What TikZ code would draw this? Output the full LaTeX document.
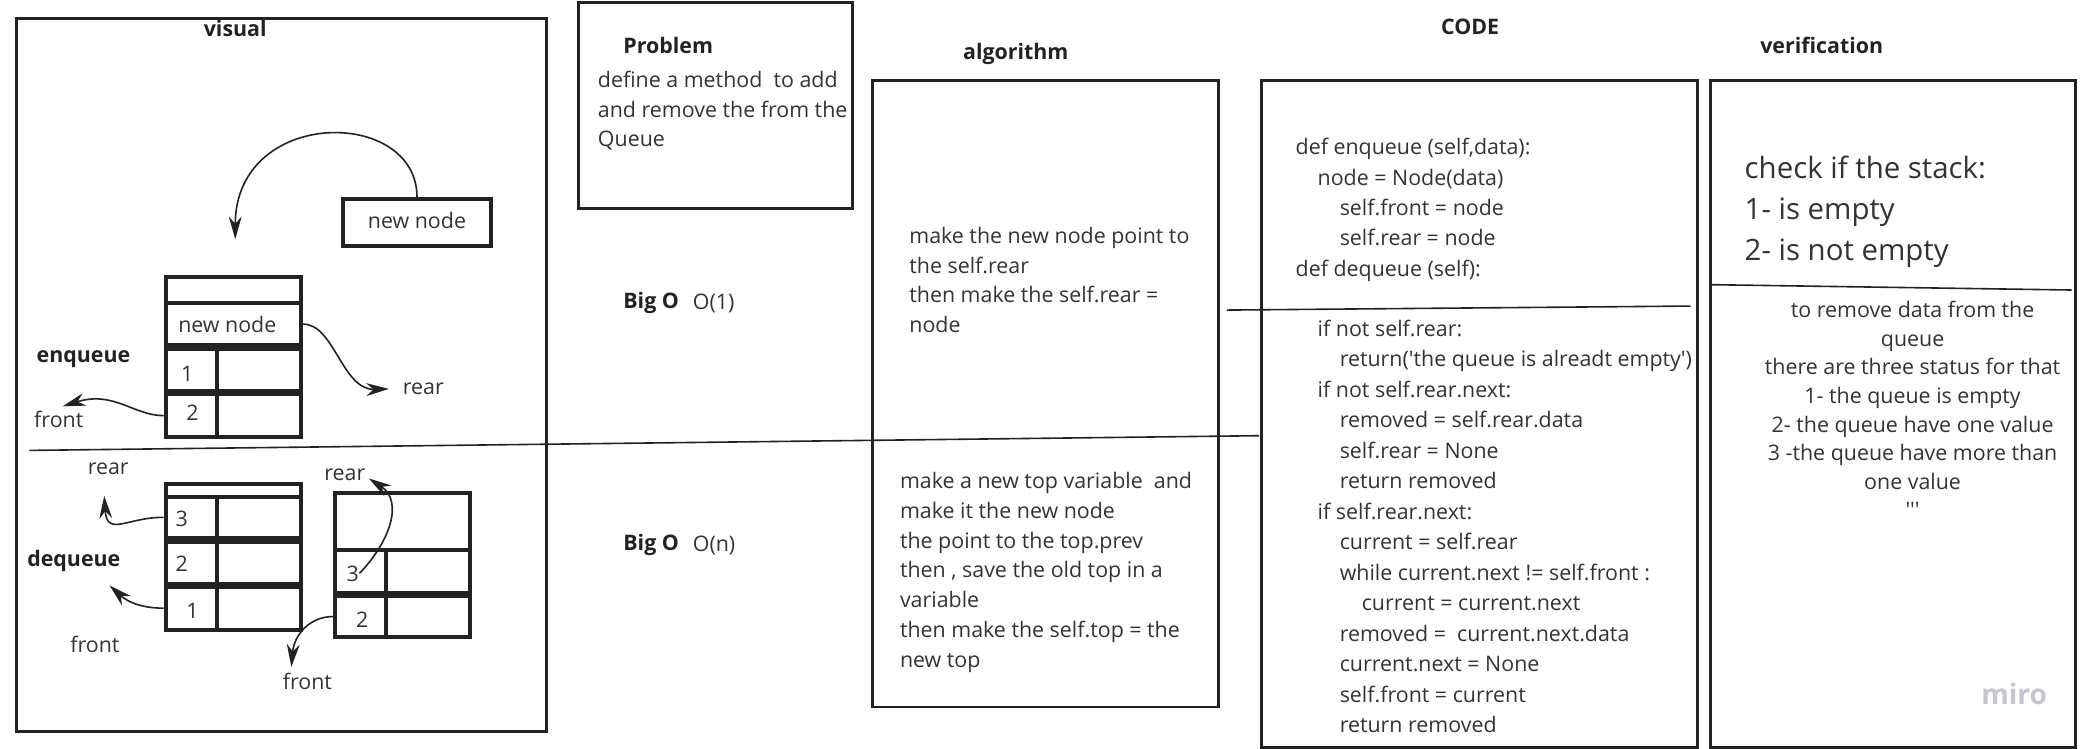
\documentclass[tikz,border=0pt]{standalone}
\usepackage{fontspec}
\setmainfont{Open Sans}
\usetikzlibrary{arrows.meta,fit}
\definecolor{ink}{RGB}{34,34,34}
\definecolor{txtc}{RGB}{51,51,51}
\definecolor{mirog}{RGB}{196,196,214}
\newcommand{\myfs}[2]{\fontsize{#1pt}{#2pt}\selectfont}
\newcommand{\indA}{\hspace*{8.25pt}}
\newcommand{\indB}{\hspace*{16.5pt}}
\newcommand{\indC}{\hspace*{24.75pt}}
\begin{document}
\begin{tikzpicture}[x=0.5pt,y=-0.5pt,
  frame/.style={draw=ink,line width=1.1pt,inner sep=0pt},
  cell/.style={draw=ink,line width=1.5pt,inner sep=0pt,text=txtc,font=\myfs{8}{10}},
  body/.style={text=txtc,inner sep=0pt,align=left,font=\myfs{8}{11}},
  ttl/.style={text=ink,inner sep=0pt,font=\bfseries\myfs{8}{10}},
  sep/.style={draw=ink,line width=0.6pt},
  arr/.style={draw=ink,line width=0.6pt,-{Stealth[length=8.5pt,width=4.8pt]}}]
\useasboundingbox (0,0) rectangle (1560,560.4);

% frames
\node[frame,fit={(12,14) (409,547)}] (visual) {};
\node[frame,fit={(433,2) (638,156)}] (problem) {};
\node[frame,fit={(653,60) (912,529)}] (algo) {};
\node[frame,fit={(944,60) (1270,559)}] (code) {};
\node[frame,fit={(1280,60) (1553,559)}] (verif) {};

% titles
\node[ttl] (tvis) at (176,21) {visual};
\node[ttl,anchor=west] (tprob) at (466,34) {Problem};
\node[ttl] (talg) at (760,40) {algorithm};
\node[ttl] (tcode) at (1100,20) {CODE};
\node[ttl] (tver) at (1363,34) {verification};

% separators
\coordinate (s1a) at (22,337);
\coordinate (s1b) at (942,326);
\draw[sep] (s1a) -- (s1b);
\coordinate (s2a) at (918,232);
\coordinate (s2b) at (1265,229);
\draw[sep] (s2a) -- (s2b);
\coordinate (s3a) at (1280,213);
\coordinate (s3b) at (1550,217);
\draw[sep] (s3a) -- (s3b);

% problem
\node[body,anchor=north west] (ptext) at (447,53) {define a method\ \ to add\\and remove the from the\\Queue};

% big O
\node[ttl,anchor=west] (bigo1) at (466,227) {Big O};
\node[body,anchor=west] (o1) at (518,227) {O(1)};
\node[ttl,anchor=west] (bigo2) at (466,408) {Big O};
\node[body,anchor=west] (on) at (518,408) {O(n)};

% algorithm
\node[body,anchor=north west] (a1) at (680,170) {make the new node point to\\the self.rear\\then make the self.rear =\\node};
\node[body,anchor=north west,font=\myfs{8}{11.15}] (a2) at (673,353) {make a new top variable\ \ and\\make it the new node\\the point to the top.prev\\then , save the old top in a\\variable\\then make the self.top = the\\new top};

% code
\node[body,anchor=north west,font=\myfs{8}{11.4}] (c1) at (969,103) {def enqueue (self,data):\\
\indA node = Node(data)\\
\indB self.front = node\\
\indB self.rear = node\\
def dequeue (self):};
\node[body,anchor=north west,font=\myfs{8}{11.4}] (c2) at (969,239) {\indA if not self.rear:\\
\indB return(\textquotesingle the queue is alreadt empty\textquotesingle)\\
\indA if not self.rear.next:\\
\indB removed = self.rear.data\\
\indB self.rear = None\\
\indB return removed\\
\indA if self.rear.next:\\
\indB current = self.rear\\
\indB while current.next != self.front :\\
\indC current = current.next\\
\indB removed =\ \ current.next.data\\
\indB current.next = None\\
\indB self.front = current\\
\indB return removed};

% verification
\node[body,anchor=north west,font=\myfs{11}{15.5}] (v1) at (1305,116) {check if the stack:\\1- is empty\\2- is not empty};
\node[body,align=center,anchor=north,font=\myfs{8}{10.7}] (v2) at (1431,225) {to remove data from the\\queue\\there are three status for that\\1- the queue is empty\\2- the queue have one value\\3 -the queue have more than\\one value\hspace*{24pt}\\\textquotesingle\textquotesingle\textquotesingle};
\node[text=mirog,inner sep=0pt,font=\bfseries\myfs{10.5}{12}] (miro) at (1507,519) {miro};

% ---- visual: enqueue
\node[cell,fit={(257,149) (367,184)}] (nn) {};
\node[body] (nnt) at (312,165) {new node};
\node[cell,fit={(124,207.5) (225,227)}] (s1top) {};
\node[cell,fit={(124,227) (225,258)}] (s1new) {};
\node[body,anchor=west] (s1newt) at (133,243) {new node};
\node[cell,fit={(124,261) (162,292.5)}] (s1r1a) {};
\node[cell,fit={(162,261) (225,292.5)}] (s1r1b) {};
\node[cell,fit={(124,295) (162,327)}] (s1r2a) {};
\node[cell,fit={(162,295) (225,327)}] (s1r2b) {};
\node[body] (n11) at (140,280) {1};
\node[body] (n12) at (144,309) {2};

\node[ttl,anchor=west] (enq) at (27,269) {enqueue};
\node[body] (front1) at (44,314) {front};
\node[body,anchor=west] (rear1) at (301,291) {rear};

\coordinate (tipA) at (176,179);
\draw[arr] (nn.north) .. controls (312,80) and (176,80) .. (tipA);
\draw[arr] (s1new.east) .. controls (250,242) and (256,292) .. ([xshift=-5pt]rear1.west);
\coordinate (tipF1) at (47,304);
\draw[arr] (s1r2a.west) .. controls (100,311) and (85,292) .. (tipF1);

% ---- visual: dequeue
\node[body] (rear2) at (81,351) {rear};
\node[ttl,anchor=west] (deq) at (20,420) {dequeue};
\node[body] (front2) at (71,482) {front};

\node[cell,fit={(124,362.3) (225,371.7)}] (s2top) {};
\node[cell,fit={(124,371.7) (162,402.4)}] (s2r3a) {};
\node[cell,fit={(162,371.7) (225,402.4)}] (s2r3b) {};
\node[cell,fit={(124,405.4) (162,436.6)}] (s2r2a) {};
\node[cell,fit={(162,405.4) (225,436.6)}] (s2r2b) {};
\node[cell,fit={(124,439.1) (162,471)}] (s2r1a) {};
\node[cell,fit={(162,439.1) (225,471)}] (s2r1b) {};
\node[body] (n23) at (136,388) {3};
\node[body] (n22) at (136,422) {2};
\node[body] (n21) at (144,457) {1};

\coordinate (tipR2) at (78,371);
\draw[arr] (s2r3a.west) .. controls (95,387) and (80,402) .. (tipR2);
\coordinate (tipF2) at (82,438);
\draw[arr] (s2r1a.west) .. controls (105,455) and (95,450) .. (tipF2);

\node[cell,fit={(251,368.6) (352,411.5)}] (s3top) {};
\node[cell,fit={(251,411.5) (288.6,443.5)}] (s3r3a) {};
\node[cell,fit={(288.6,411.5) (352,443.5)}] (s3r3b) {};
\node[body] (three) at (264,429) {3};
\node[cell,fit={(251,445.8) (288.6,476.9)}] (s3r2a) {};
\node[cell,fit={(288.6,445.8) (352,476.9)}] (s3r2b) {};
\node[body] (n32) at (271,464) {2};

\node[body] (rear3) at (258,355) {rear};
\node[body] (front3) at (230,510) {front};

\coordinate (tipR3) at (276,358);
\draw[arr] (three.east) .. controls (292,405) and (302,375) .. (tipR3);
\coordinate (tipF3) at (218,499);
\draw[arr] (s3r2a.west) .. controls (232,461) and (220,475) .. (tipF3);
\end{tikzpicture}
\end{document}
